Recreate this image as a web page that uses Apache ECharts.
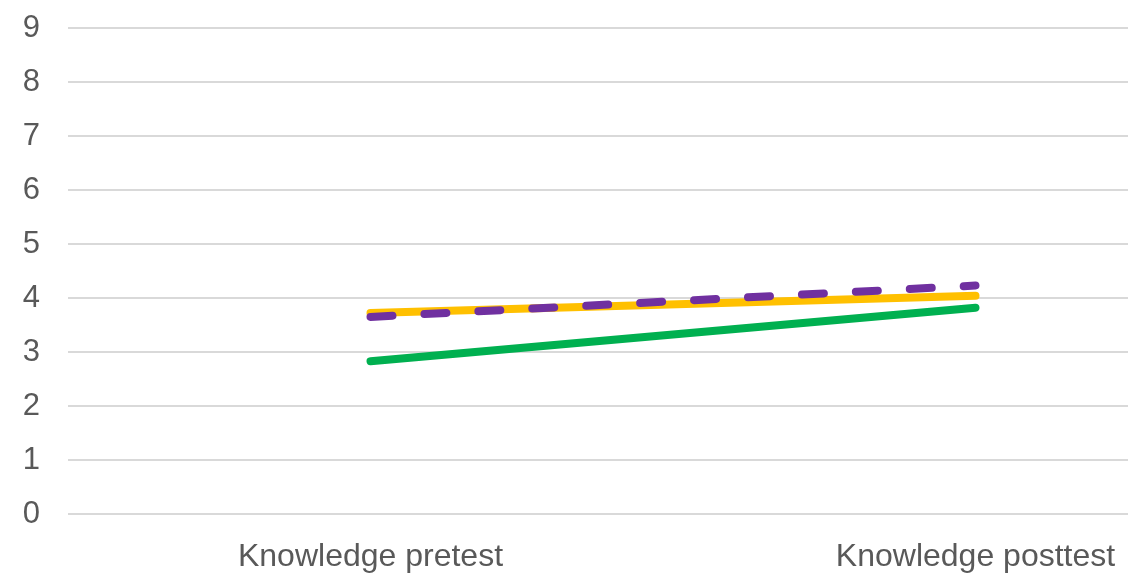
<!DOCTYPE html>
<html>
<head>
<meta charset="utf-8">
<script src="https://cdn.jsdelivr.net/npm/echarts@6/dist/echarts.min.js"></script>
<style>
  html, body { margin: 0; padding: 0; background: #ffffff; overflow: hidden; }
  /* the plot runs past the right edge of the window */
  #chart { width: 1300px; height: 573px; }
</style>
</head>
<body>
<div id="chart"></div>
<script>
// Test phases on the category axis
const categories = ['Knowledge pretest', 'Knowledge posttest'];

// Mean knowledge scores per group
const yellowSeries = [3.72, 4.04];
const purpleSeries = [3.65, 4.23];
const greenSeries = [2.83, 3.82];

const yMin = 0;
const yMax = 9;
const yInterval = 1;

const chart = echarts.init(document.getElementById('chart'), null, { renderer: 'canvas' });

const textColor = '#595959';
const fontFamily = '"Liberation Sans", Arial, sans-serif';

function lineSeries(name, data, color, dashed) {
  return {
    name: name,
    type: 'line',
    data: data,
    symbol: 'none',
    silent: true,
    lineStyle: {
      color: color,
      width: 8,
      cap: 'round',
      join: 'round',
      type: dashed ? [22, 32] : 'solid'
    },
    z: dashed ? 4 : 3
  };
}

chart.setOption({
  animation: false,
  backgroundColor: '#ffffff',
  grid: { left: 68, top: 28, right: 22, bottom: 58, containLabel: false },
  xAxis: {
    type: 'category',
    data: categories,
    boundaryGap: true,
    axisLine: { show: false },
    axisTick: { show: false },
    axisLabel: {
      color: textColor,
      fontFamily: fontFamily,
      fontSize: 32,
      margin: 27,
      interval: 0
    }
  },
  yAxis: {
    type: 'value',
    min: yMin,
    max: yMax,
    interval: yInterval,
    axisLine: { show: false },
    axisTick: { show: false },
    axisLabel: {
      color: textColor,
      fontFamily: fontFamily,
      fontSize: 31,
      margin: 28
    },
    splitLine: { lineStyle: { color: '#d9d9d9', width: 2 } }
  },
  series: [
    lineSeries('Yellow', yellowSeries, '#FFC000', false),
    lineSeries('Green', greenSeries, '#00B050', false),
    lineSeries('Purple', purpleSeries, '#7030A0', true)
  ]
});
</script>
</body>
</html>
